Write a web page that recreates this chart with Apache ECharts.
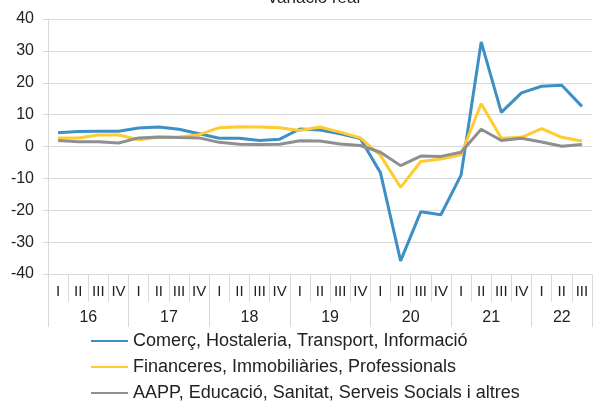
<!DOCTYPE html>
<html style="height: 100%">
<head>
    <meta charset="utf-8">
</head>
<body style="height: 100%; margin: 0">
<div id="container" style="width: 595px; height: 401px"></div>
<script src="https://cdn.jsdelivr.net/npm/echarts@6/dist/echarts.min.js"></script>
<script type="text/javascript">
    // trimestres 2016 I - 2022 III
    var quarters = ['I', 'II', 'III', 'IV', 'I', 'II', 'III', 'IV', 'I', 'II', 'III', 'IV',
        'I', 'II', 'III', 'IV', 'I', 'II', 'III', 'IV', 'I', 'II', 'III', 'IV', 'I', 'II', 'III'];
    var years = ['16', '17', '18', '19', '20', '21', '22'];
    var seriesNames = [
        'Comerç, Hostaleria, Transport, Informació',
        'Financeres, Immobiliàries, Professionals',
        'AAPP, Educació, Sanitat, Serveis Socials i altres'
    ];
    var comerc = [4.3, 4.7, 4.8, 4.8, 5.8, 6.1, 5.4, 4.0, 2.6, 2.6, 1.9, 2.3, 5.5, 5.2, 4.0, 2.5,
        -8.2, -35.9, -20.5, -21.4, -9.0, 32.8, 10.7, 16.8, 18.9, 19.2, 12.6];
    var financeres = [2.7, 2.7, 3.6, 3.6, 2.1, 2.9, 3.0, 3.7, 5.9, 6.2, 6.1, 5.9, 5.0, 6.1, 4.5, 2.7,
        -2.8, -12.8, -4.7, -3.9, -2.6, 13.4, 2.6, 2.9, 5.6, 2.9, 1.7];
    var aapp = [1.9, 1.5, 1.5, 1.1, 2.7, 3.0, 2.8, 2.7, 1.3, 0.7, 0.6, 0.7, 1.8, 1.7, 0.8, 0.3,
        -1.8, -6.0, -3.0, -3.1, -1.8, 5.4, 1.9, 2.6, 1.4, 0.1, 0.6];

    // eix auxiliar de mitjos trimestres per posar l'any al centre i les separacions
    var halfSlots = [];
    var yearTicks = {};
    for (var j = 0; j <= quarters.length * 2; j++) halfSlots.push('');
    for (var k = 0; k < years.length; k++) {
        var start = k * 8;
        var end = Math.min(start + 8, quarters.length * 2);
        halfSlots[(start + end) / 2] = years[k];
        yearTicks[start] = true;
        yearTicks[end] = true;
    }

    var textColor = '#222';
    var gridColor = '#d9d9d9';
    var font = 'Liberation Sans, Arial, sans-serif';

    // una llegenda per fila
    var legends = seriesNames.map(function (name, i) {
        return {
            left: 90,
            top: 332 + i * 26,
            padding: 0,
            itemWidth: 37,
            itemHeight: 16,
            itemStyle: {opacity: 0},
            data: [name],
            textStyle: {fontSize: 18, color: textColor, fontFamily: font}
        };
    });

    var dom = document.getElementById("container");
    var myChart = echarts.init(dom);
    var option = {
        animation: false,
        title: {
            text: 'Variació real',
            left: 262,
            top: -15,
            textStyle: {fontSize: 17, fontWeight: 'normal', color: textColor, fontFamily: font}
        },
        grid: {left: 48, right: -6, top: 19, bottom: 127},
        legend: legends,
        xAxis: [
            {
                type: 'category',
                data: quarters,
                position: 'bottom',
                axisLine: {onZero: false, lineStyle: {color: gridColor}},
                axisTick: {show: true, length: 28, lineStyle: {color: gridColor}},
                axisLabel: {interval: 0, margin: 10, fontSize: 15, color: textColor, fontFamily: font}
            },
            {
                type: 'category',
                data: halfSlots,
                boundaryGap: false,
                position: 'bottom',
                axisLine: {show: false, onZero: false},
                axisTick: {
                    show: true, length: 53, lineStyle: {color: gridColor},
                    interval: function (index) { return !!yearTicks[index]; }
                },
                axisLabel: {interval: 0, margin: 36, fontSize: 16, color: textColor, fontFamily: font}
            }
        ],
        yAxis: {
            type: 'value',
            min: -40,
            max: 40,
            interval: 10,
            axisLine: {show: true, lineStyle: {color: gridColor}},
            axisTick: {show: true, length: 5, lineStyle: {color: gridColor}},
            axisLabel: {margin: 14, fontSize: 16, color: textColor, fontFamily: font},
            splitLine: {lineStyle: {color: gridColor}}
        },
        series: [
            {name: seriesNames[0], type: 'line', data: comerc, symbol: 'none',
                lineStyle: {width: 3, color: '#3d8fc6'}, itemStyle: {color: '#3d8fc6'}},
            {name: seriesNames[1], type: 'line', data: financeres, symbol: 'none',
                lineStyle: {width: 3, color: '#ffcb2f'}, itemStyle: {color: '#ffcb2f'}},
            {name: seriesNames[2], type: 'line', data: aapp, symbol: 'none',
                lineStyle: {width: 3, color: '#8f8f8f'}, itemStyle: {color: '#8f8f8f'}}
        ]
    };
    myChart.setOption(option);
</script>
</body>
</html>
